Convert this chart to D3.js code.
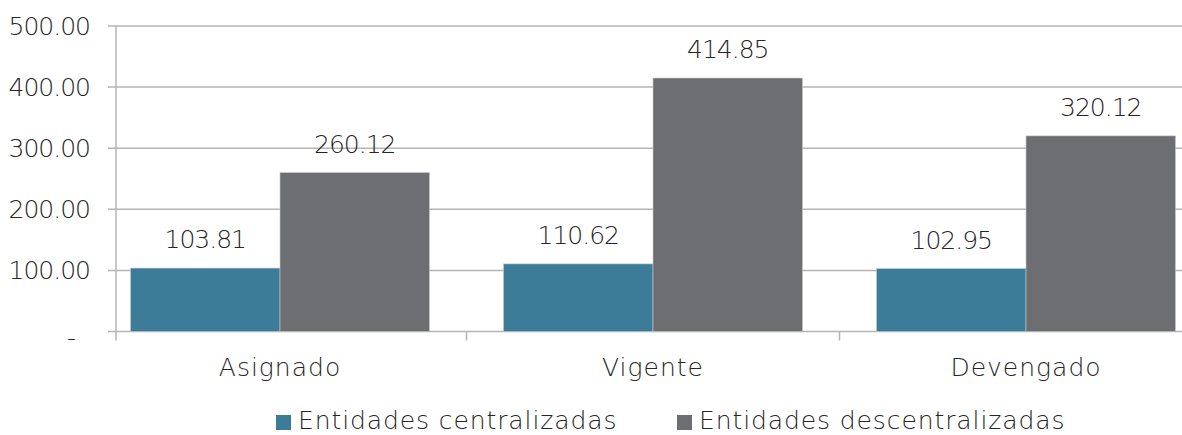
<!DOCTYPE html>
<html>
<head>
<meta charset="utf-8">
<script src="https://cdn.jsdelivr.net/npm/d3@7"></script>
<style>
  body { margin: 0; background: #fff; }
  text { font-family: "DejaVu Sans", sans-serif; font-weight: 300; fill: #262626; }
</style>
</head>
<body>
<div id="chart"></div>
<script>
const categories = ['Asignado', 'Vigente', 'Devengado'];
const seriesNames = ['Entidades centralizadas', 'Entidades descentralizadas'];
const centralizadas = [103.81, 110.62, 102.95];
const descentralizadas = [260.12, 414.85, 320.12];
const yTicks = [0, 100, 200, 300, 400, 500];

const colors = ['#3d7c98', '#6d6e71'];
const width = 1182, height = 435;

const svg = d3.select('#chart').append('svg')
  .attr('width', width)
  .attr('height', height);

// x bands (first band starts left of the y axis, as in the source)
const x0 = d3.scaleBand().domain(categories).range([93.5, 93.5 + 373 * 3]).paddingInner(0).paddingOuter(0);
const x1 = d3.scaleBand().domain(seriesNames).range([0, x0.bandwidth()]).paddingOuter(0.2475).paddingInner(0);
const y = d3.scaleLinear().domain([0, 500]).range([331.5, 26]);
const axisX = 116;

// gridlines
svg.append('g').selectAll('line').data(yTicks).join('line')
  .attr('x1', axisX - 8).attr('x2', width)
  .attr('y1', d => y(d)).attr('y2', d => y(d))
  .attr('stroke', '#b5b5b5').attr('stroke-width', 1.5);

// y axis line
svg.append('line')
  .attr('x1', axisX).attr('x2', axisX)
  .attr('y1', y(500)).attr('y2', y(0) + 9)
  .attr('stroke', '#b5b5b5').attr('stroke-width', 1.5);

// category boundary ticks
svg.append('g').selectAll('line').data(categories.slice(1)).join('line')
  .attr('x1', d => x0(d)).attr('x2', d => x0(d))
  .attr('y1', y(0)).attr('y2', y(0) + 9)
  .attr('stroke', '#b5b5b5').attr('stroke-width', 1.5);

// y tick labels (zero shows as an accounting dash)
svg.append('g').selectAll('text').data(yTicks).join('text')
  .attr('x', d => d === 0 ? 75 : 90)
  .attr('y', d => d === 0 ? y(d) + 6 : y(d))
  .attr('dy', '0.35em')
  .attr('text-anchor', 'end')
  .style('font-size', '25px')
  .style('letter-spacing', '-1px')
  .text(d => d === 0 ? '-' : d3.format('.2f')(d));

const rows = categories.map((c, i) => ({
  cat: c,
  vals: [
    { s: seriesNames[0], v: centralizadas[i], c: colors[0] },
    { s: seriesNames[1], v: descentralizadas[i], c: colors[1] }
  ]
}));

const groups = svg.append('g').selectAll('g').data(rows).join('g')
  .attr('transform', d => 'translate(' + x0(d.cat) + ',0)');

groups.selectAll('rect').data(d => d.vals).join('rect')
  .attr('x', d => x1(d.s))
  .attr('width', x1.bandwidth())
  .attr('y', d => y(d.v))
  .attr('height', d => y(0) - y(d.v))
  .attr('fill', d => d.c)
  .attr('stroke', '#c8c8c8').attr('stroke-width', 0.6);

groups.selectAll('text').data(d => d.vals).join('text')
  .attr('x', d => x1(d.s) + x1.bandwidth() / 2)
  .attr('y', d => y(d.v) - 20)
  .attr('text-anchor', 'middle')
  .style('font-size', '25px')
  .style('letter-spacing', '-1px')
  .text(d => d3.format('.2f')(d.v));

// category labels
svg.append('g').selectAll('text').data(categories).join('text')
  .attr('x', d => x0(d) + x0.bandwidth() / 2)
  .attr('y', 376)
  .attr('text-anchor', 'middle')
  .style('font-size', '25px')
  .style('letter-spacing', '1px')
  .text(d => d);

// legend
const legend = [
  { name: seriesNames[0], color: colors[0], x: 276 },
  { name: seriesNames[1], color: colors[1], x: 677 }
];
const lg = svg.append('g').selectAll('g').data(legend).join('g')
  .attr('transform', d => 'translate(' + d.x + ',0)');
lg.append('rect').attr('x', 0).attr('y', 415).attr('width', 15).attr('height', 15)
  .attr('fill', d => d.color);
lg.append('text').attr('x', 22).attr('y', 429)
  .style('font-size', '25px')
  .style('letter-spacing', '0.9px')
  .text(d => d.name);
</script>
</body>
</html>
